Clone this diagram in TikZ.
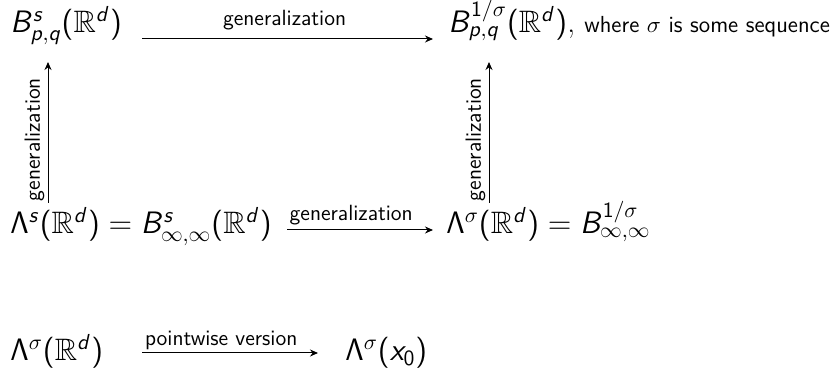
\RequirePackage{fix-cm}
\documentclass[tikz,border=0pt]{standalone}
\usepackage{amssymb}
\usetikzlibrary{arrows.meta}
\DeclareFontFamily{U}{msb}{}
\DeclareFontShape{U}{msb}{m}{n}{<-6> msbm5 <6-8> msbm7 <8-> msbm10}{}
\SetSymbolFont{operators}{normal}{OT1}{cmss}{m}{n}
\DeclareSymbolFont{sfletters}{OT1}{cmss}{m}{sl}
\DeclareMathSymbol{B}{\mathalpha}{sfletters}{`B}
\DeclareMathSymbol{p}{\mathalpha}{sfletters}{`p}
\DeclareMathSymbol{q}{\mathalpha}{sfletters}{`q}
\DeclareMathSymbol{s}{\mathalpha}{sfletters}{`s}
\DeclareMathSymbol{d}{\mathalpha}{sfletters}{`d}
\DeclareMathSymbol{x}{\mathalpha}{sfletters}{`x}
\begin{document}
\begin{tikzpicture}[x=0.5pt,y=-0.5pt,
  mth/.style={inner sep=0pt, anchor=base west, font=\fontsize{15.5}{18}\selectfont},
  lab/.style={font=\fontsize{11}{13}\selectfont\sffamily, inner sep=1pt},
  arr/.style={line width=0.5pt, -{Stealth[length=4pt,width=3.5pt]}}]
\useasboundingbox (0,0) rectangle (830,368);
\node[mth] (B1) at (10,33) {$B^{s}_{p,q}(\mathbb{R}^d)$};
\node[mth] (B2) at (448,33) {$B^{1/\sigma}_{p,q}(\mathbb{R}^d)$,\ {\fontsize{11.6}{13}\selectfont\sffamily where $\sigma$ is some sequence}};
\node[mth] (L1) at (10,234) {$\Lambda^{s}(\mathbb{R}^d) = B^{s}_{\infty,\infty}(\mathbb{R}^d)$};
\node[mth] (L2) at (446,234) {$\Lambda^{\sigma}(\mathbb{R}^d) = B^{1/\sigma}_{\infty,\infty}$};
\node[mth] (L3) at (10,361) {$\Lambda^{\sigma}(\mathbb{R}^d)$};
\node[mth] (L4) at (345,361) {$\Lambda^{\sigma}(x_0)$};
\draw[arr] ([shift={(132,6)}]B1.base west) -- ([shift={(-15,6)}]B2.base west)
  node[lab, pos=0.49, above=3pt] {generalization};
\draw[arr] ([shift={(277,-4)}]L1.base west) -- ([shift={(-13,-4)}]L2.base west)
  node[lab, pos=0.44, above=1pt] {generalization};
\draw[arr] ([shift={(132,-8)}]L3.base west) -- ([shift={(-27,-8)}]L4.base west)
  node[lab, pos=0.45, above=0.5pt] {pointwise version};
\draw[arr] ([shift={(38,-31)}]L1.base west) -- ([shift={(38,29)}]B1.base west)
  node[lab, pos=0.45, sloped, above=0.5pt] {generalization};
\draw[arr] ([shift={(43,-31)}]L2.base west) -- ([shift={(41,29)}]B2.base west)
  node[lab, pos=0.45, sloped, above=0.5pt] {generalization};
\end{tikzpicture}
\end{document}
